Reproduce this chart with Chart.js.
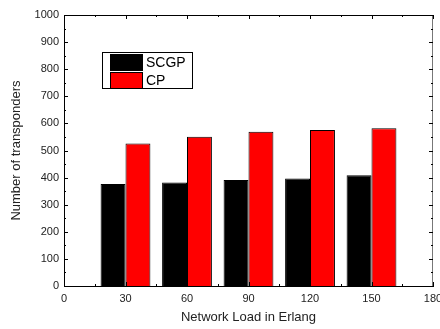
<!DOCTYPE html>
<html>
<head>
<meta charset="utf-8">
<script src="https://cdn.jsdelivr.net/npm/chart.js@4.4.1/dist/chart.umd.min.js"></script>
<style>
  html, body { margin: 0; padding: 0; background: #fff; }
  #wrap { width: 440px; height: 329px; }
</style>
</head>
<body>
<div id="wrap"><canvas id="chart"></canvas></div>
<script>
// dados
var cargas = [30, 60, 90, 120, 150];
var scgp = [376, 382, 391, 397, 409];
var cp = [526, 551, 569, 576, 582];
var rotulos = ['SCGP', 'CP'];
var ticksX = [0, 30, 60, 90, 120, 150, 180];
var ticksY = [0, 100, 200, 300, 400, 500, 600, 700, 800, 900, 1000];

function pontos(vals) {
  return cargas.map(function (c, i) { return { x: c, y: vals[i] }; });
}

// moldura, marcas internas e legenda
var moldura = {
  id: 'moldura',
  afterDraw: function (chart) {
    var ctx = chart.ctx, a = chart.chartArea;
    var sx = chart.scales.x, sy = chart.scales.y;
    ctx.save();
    ctx.lineWidth = 1;
    ctx.strokeStyle = '#000';
    ctx.beginPath();
    ctx.moveTo(a.left, a.top + 0.5); ctx.lineTo(a.right, a.top + 0.5);
    ctx.stroke();
    ctx.strokeStyle = '#777';
    ctx.beginPath();
    ctx.moveTo(a.right - 0.5, a.top); ctx.lineTo(a.right - 0.5, a.bottom);
    ctx.stroke();

    ctx.strokeStyle = '#000';
    ctx.beginPath();
    for (var v = 0; v <= 180; v += 15) {
      var px = Math.round(sx.getPixelForValue(v)) + 0.5;
      var len = (v % 30 === 0) ? 4 : 2;
      ctx.moveTo(px, a.bottom); ctx.lineTo(px, a.bottom - len);
      ctx.moveTo(px, a.top); ctx.lineTo(px, a.top + len);
    }
    for (var w = 0; w <= 1000; w += 50) {
      var py = Math.round(sy.getPixelForValue(w)) + 0.5;
      var l2 = (w % 100 === 0) ? 4 : 2;
      ctx.moveTo(a.left, py); ctx.lineTo(a.left + l2, py);
      ctx.moveTo(a.right, py); ctx.lineTo(a.right - l2, py);
    }
    ctx.stroke();

    // legenda
    var bx = 102, by = 52;
    ctx.strokeStyle = '#000';
    ctx.strokeRect(bx + 0.5, by + 0.5, 90, 36);
    var cores = ['#000000', '#ff0000'];
    ctx.font = '14px "Liberation Sans", Arial, sans-serif';
    ctx.textBaseline = 'middle';
    ctx.fillStyle = '#000';
    for (var i = 0; i < rotulos.length; i++) {
      var yy = by + 2 + i * 18;
      ctx.fillStyle = cores[i];
      ctx.fillRect(bx + 8, yy, 32, 16);
      ctx.strokeRect(bx + 8.5, yy + 0.5, 32, 16);
      ctx.fillStyle = '#000';
      ctx.fillText(rotulos[i], bx + 44, yy + 9);
    }
    ctx.restore();
  }
};

var fonte = '"Liberation Sans", Arial, sans-serif';
var ctx = document.getElementById('chart').getContext('2d');
window.grafico = new Chart(ctx, {
  type: 'bar',
  data: {
    datasets: [{
      label: rotulos[0],
      data: pontos(scgp),
      backgroundColor: '#000000',
      borderColor: '#000000',
      borderWidth: 1
    }, {
      label: rotulos[1],
      data: pontos(cp),
      backgroundColor: '#ff0000',
      borderColor: '#000000',
      borderWidth: 1
    }]
  },
  options: {
    responsive: true,
    maintainAspectRatio: false,
    animation: false,
    categoryPercentage: 0.81,
    barPercentage: 1,
    layout: { padding: { top: 15, right: 7, left: 0, bottom: 0 } },
    plugins: { legend: { display: false }, tooltip: { enabled: false } },
    scales: {
      x: {
        type: 'linear',
        min: 0, max: 180,
        offset: false,
        grid: { display: false, drawTicks: false },
        border: { display: true, color: '#000', width: 1 },
        afterBuildTicks: function (s) { s.ticks = ticksX.map(function (v) { return { value: v }; }); },
        afterFit: function (s) { s.height = 43; s.paddingLeft = 0; s.paddingRight = 0; },
        ticks: { color: '#222', padding: 6, font: { size: 11, family: fonte },
                 callback: function (v) { return String(v); } },
        title: { display: true, text: 'Network Load in Erlang', color: '#222', padding: { top: 5 },
                 font: { size: 13, family: fonte } }
      },
      y: {
        min: 0, max: 1000,
        grid: { display: false, drawTicks: false },
        border: { display: true, color: '#000', width: 1 },
        afterBuildTicks: function (s) { s.ticks = ticksY.map(function (v) { return { value: v }; }); },
        afterFit: function (s) { s.width = 64; s.paddingTop = 0; s.paddingBottom = 0; },
        ticks: { color: '#222', padding: 5, font: { size: 11, family: fonte },
                 callback: function (v) { return String(v); } },
        title: { display: true, text: 'Number of transponders', color: '#222', padding: { top: 9, bottom: 3 },
                 font: { size: 13, family: fonte } }
      }
    }
  },
  plugins: [moldura]
});
</script>
</body>
</html>
